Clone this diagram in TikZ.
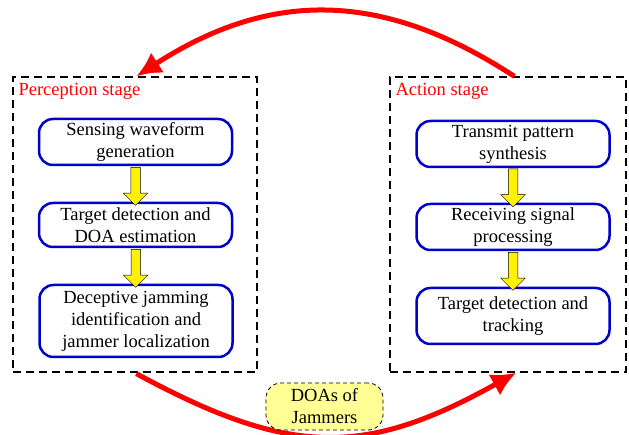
\documentclass[tikz,border=0pt]{standalone}
\usepackage{fontspec}
\setmainfont{Liberation Serif}
\usepackage{tikz}
\usetikzlibrary{arrows.meta,shapes.arrows,calc,positioning}
\definecolor{procblue}{RGB}{0,0,204}
\definecolor{notefill}{RGB}{255,255,150}
\tikzset{
  stagebox/.style={draw=black,dash pattern=on 8pt off 5pt,line width=1.3pt,inner sep=0pt},
  stagelabel/.style={text=red,inner sep=0pt,anchor=base west,font=\fontsize{18.5}{22}\selectfont},
  procbox/.style={draw=procblue,line width=2.5pt,rounded corners=14pt,minimum width=193pt,align=center,inner sep=0pt,font=\fontsize{18.5}{22}\selectfont},
  flowarrow/.style={single arrow,draw=black,line width=0.5pt,fill=yellow,rotate=-90,text height=0pt,text depth=0pt,inner xsep=0pt,inner ysep=4.5pt,single arrow head extend=7.5pt,minimum height=38pt},
  looparrow/.style={red,line width=5pt,-{Latex[length=25pt,width=24pt]}},
  notebox/.style={draw=black,dash pattern=on 4pt off 3pt,line width=0.8pt,fill=notefill,rounded corners=15pt,minimum width=117pt,minimum height=47pt,align=center,inner sep=0pt,font=\fontsize{18.5}{22}\selectfont}
}
\begin{document}
\begin{tikzpicture}[x=1pt,y=-1pt]
\useasboundingbox (0,0) rectangle (629,435);
% stage frames
\node[stagebox,minimum width=244pt,minimum height=295pt] (perc) at (135,224.5) {};
\node[stagebox,minimum width=236pt,minimum height=295pt] (act) at (508,224.5) {};
\node[stagelabel] (perclabel) at ($(perc.north west)+(6,19)$) {Perception stage};
\node[stagelabel] (actlabel) at ($(act.north west)+(6,19)$) {Action stage};
% perception chain
\node[procbox,minimum height=46pt] (sense) at (135.5,142) {Sensing waveform\\generation};
\node[procbox,minimum height=44pt] (detect) at (135.5,225) {Target detection and\\DOA estimation};
\node[procbox,minimum height=72pt] (ident) at (136,321) {Deceptive jamming\\identification and\\jammer localization};
\path (sense.south) -- node[flowarrow] (f1) {} (detect.north);
\path (detect.south) -- node[flowarrow] (f2) {} (ident.north);
% action chain
\node[procbox,minimum height=46pt] (synth) at (513,144) {Transmit pattern\\synthesis};
\node[procbox,minimum height=46pt] (recv) at (513,227) {Receiving signal\\processing};
\node[procbox,minimum height=56pt] (track) at (513,316) {Target detection and\\tracking};
\path (synth.south) -- node[flowarrow] (f3) {} (recv.north);
\path (recv.south) -- node[flowarrow] (f4) {} (track.north);
% feedback loop
\coordinate (topstart) at ($(act.north west)+(125,0)$);
\coordinate (topend) at ($(perc.north west)+(124,0)$);
\coordinate (botstart) at ($(perc.south west)+(124,1)$);
\coordinate (botend) at ($(act.south west)+(127,0)$);
\draw[looparrow] (topstart) .. controls (382,-10) and (270,-10) .. (topend);
\draw[looparrow] (botstart) .. controls (290,457) and (365,457) .. (botend);
\node[notebox] (doa) at (324.5,406.5) {DOAs of\\Jammers};
\end{tikzpicture}
\end{document}
